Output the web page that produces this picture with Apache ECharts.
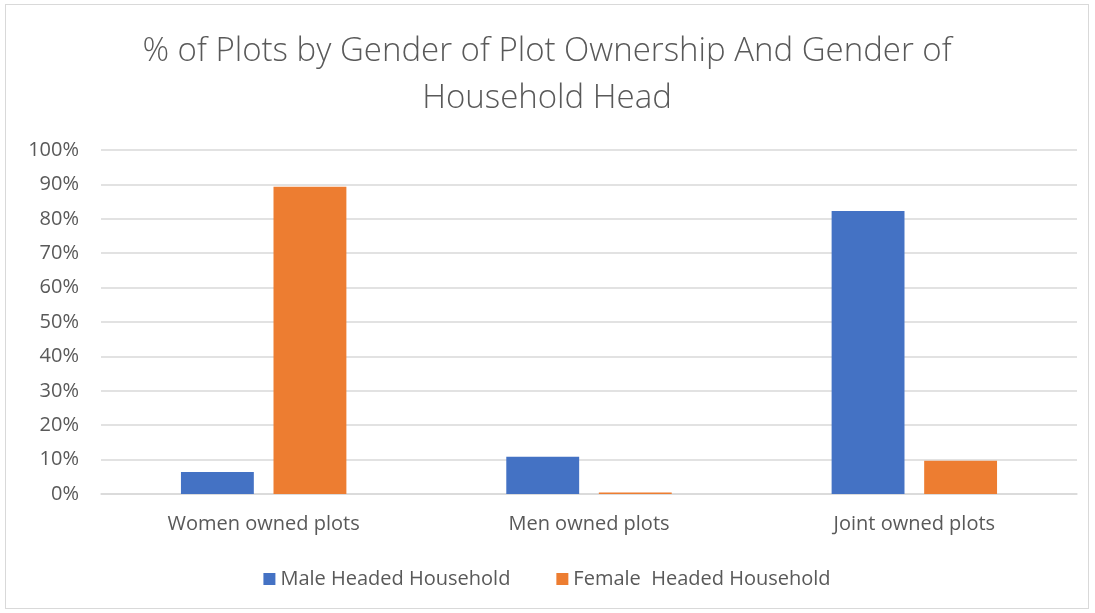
<!DOCTYPE html>
<html>
<head>
<meta charset="utf-8">
<script src="https://cdn.jsdelivr.net/npm/echarts@6/dist/echarts.min.js"></script>
<style>
html, body { margin: 0; padding: 0; background: #fff; }
#chart { position: absolute; left: 5px; top: 4px; width: 1084px; height: 605px; border: 1px solid #d9d9d9; box-sizing: border-box; }
</style>
</head>
<body>
<div id="chart"></div>
<script>
const categories = ['Women owned plots', 'Men owned plots', 'Joint owned plots']
const maleHeaded = [6.4, 10.8, 82.3]
const femaleHeaded = [89.3, 0.4, 9.7]
const seriesNames = ['Male Headed Household', 'Female  Headed Household']

let chart = echarts.init(document.getElementById('chart'))
const font = "'Open Sans', sans-serif"
let option = {
    title: {
        text: '% of Plots by Gender of Plot Ownership And Gender of\nHousehold Head',
        left: 'center',
        top: 18,
        textStyle: {
            fontFamily: font,
            fontWeight: 300,
            fontSize: 33,
            color: '#595959',
            lineHeight: 47
        }
    },
    legend: {
        bottom: 14,
        left: 'center',
        itemWidth: 12,
        itemHeight: 12,
        itemGap: 46,
        icon: 'rect',
        textStyle: { fontFamily: font, fontSize: 20, color: '#595959' },
        data: seriesNames
    },
    grid: {
        left: 95,
        right: 11,
        top: 145,
        bottom: 114
    },
    xAxis: {
        type: 'category',
        data: categories,
        axisTick: { show: false },
        axisLine: { lineStyle: { color: '#d9d9d9', width: 1.5 } },
        axisLabel: { fontFamily: font, fontSize: 20, color: '#595959', margin: 20 }
    },
    yAxis: {
        type: 'value',
        min: 0,
        max: 100,
        interval: 10,
        axisLabel: { fontFamily: font, fontSize: 20, color: '#595959', formatter: '{value}%', margin: 22 },
        splitLine: { lineStyle: { color: '#d9d9d9', width: 1.5 } },
        axisLine: { show: false },
        axisTick: { show: false }
    },
    series: [
        {
            name: seriesNames[0],
            type: 'bar',
            data: maleHeaded,
            barWidth: '22.4%',
            barGap: '27%',
            itemStyle: { color: '#4472c4' }
        },
        {
            name: seriesNames[1],
            type: 'bar',
            data: femaleHeaded,
            barWidth: '22.4%',
            itemStyle: { color: '#ed7d31' }
        }
    ]
}
chart.setOption(option)
</script>
</body>
</html>
